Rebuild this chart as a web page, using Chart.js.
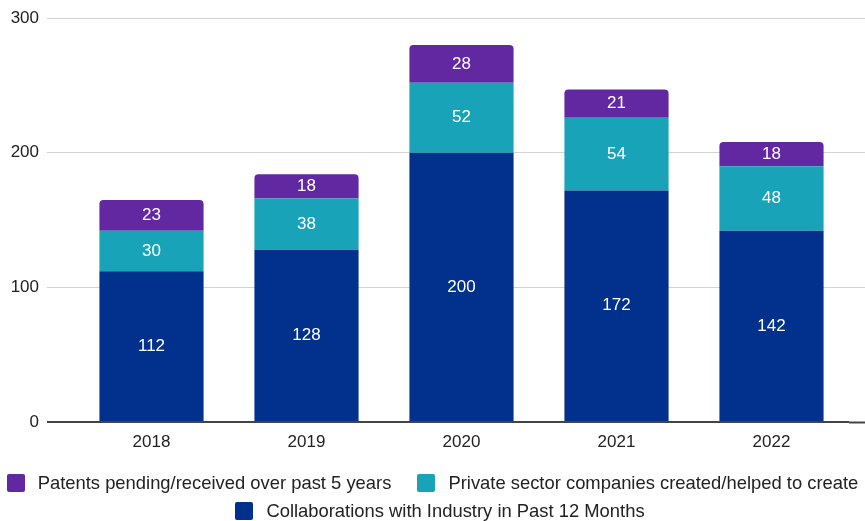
<!DOCTYPE html>
<html lang="en">
<head>
<meta charset="UTF-8">
<title>Stacked outputs by year</title>
<script src="https://cdn.jsdelivr.net/npm/chart.js@4.4.0/dist/chart.umd.min.js"></script>
<style>
  html, body { margin: 0; padding: 0; background: #fff; }
  #wrap { position: relative; width: 865px; height: 521px; }
  #legend {
    position: absolute; left: 0; top: 469px; width: 865px;
    font-family: 'Liberation Sans', Arial, sans-serif; font-size: 18.4px; color: #222;
  }
  .row { display: flex; justify-content: center; height: 28px; align-items: center; }
  .row.second { padding-left: 15px; }
  .item { display: flex; align-items: center; margin: 0 13px; white-space: nowrap; }
  .box { width: 18px; height: 18px; border-radius: 2px; margin-right: 13px; }
</style>
</head>
<body>
<div id="wrap">
  <canvas id="chart"></canvas>
  <div id="legend"></div>
</div>
<script>
// Data
const years = ['2018', '2019', '2020', '2021', '2022'];
const collaborations = [112, 128, 200, 172, 142];
const privateSector = [30, 38, 52, 54, 48];
const patents = [23, 18, 28, 21, 18];
const yTicks = [0, 100, 200, 300];

const FONT = 'Liberation Sans, Arial, sans-serif';
const gridColor = ctx => ctx.tick && ctx.tick.value === 0 ? '#444' : '#d3d3d3';
const gridWidth = ctx => ctx.tick && ctx.tick.value === 0 ? 2 : 1;

// white value labels centred in every bar segment
const segmentLabels = {
  id: 'segmentLabels',
  afterDatasetsDraw(chart) {
    const ctx = chart.ctx;
    ctx.save();
    ctx.fillStyle = '#fff';
    ctx.font = '17px ' + FONT;
    ctx.textAlign = 'center';
    ctx.textBaseline = 'middle';
    chart.data.datasets.forEach((ds, i) => {
      chart.getDatasetMeta(i).data.forEach((bar, j) => {
        ctx.fillText(ds.data[j], bar.x, (bar.y + bar.base) / 2);
      });
    });
    ctx.restore();
  }
};

const chart = new Chart(document.getElementById('chart'), {
  type: 'bar',
  data: {
    labels: years,
    datasets: [
      {
        label: 'Collaborations with Industry in Past 12 Months',
        data: collaborations,
        backgroundColor: '#01318c'
      },
      {
        label: 'Private sector companies created/helped to create',
        data: privateSector,
        backgroundColor: '#18a3b8'
      },
      {
        label: 'Patents pending/received over past 5 years',
        data: patents,
        backgroundColor: '#6228a2',
        borderRadius: { topLeft: 4, topRight: 4, bottomLeft: 0, bottomRight: 0 },
        borderSkipped: false
      }
    ]
  },
  options: {
    responsive: true,
    maintainAspectRatio: false,
    animation: false,
    datasets: { bar: { categoryPercentage: 1, barPercentage: 0.672 } },
    layout: { padding: { top: 18, left: 0, right: 0, bottom: 57 } },
    plugins: {
      tooltip: { enabled: false },
      legend: { display: false }
    },
    scales: {
      x: {
        stacked: true,
        grid: { display: false, drawTicks: false },
        border: { display: false },
        ticks: { color: '#222', padding: 10, font: { family: FONT, size: 17 } },
        afterFit(s) { s.height = 42; }
      },
      y: {
        stacked: true,
        position: 'left',
        min: 0,
        max: 300,
        afterBuildTicks(s) { s.ticks = yTicks.map(v => ({ value: v })); },
        grid: { color: gridColor, lineWidth: gridWidth, tickLength: 27, tickColor: gridColor, tickWidth: gridWidth },
        border: { display: false },
        ticks: { color: '#222', padding: 8, font: { family: FONT, size: 17 } },
        afterFit(s) { s.width = 74; }
      },
      y2: {
        position: 'right',
        min: 0,
        max: 300,
        afterBuildTicks(s) { s.ticks = yTicks.map(v => ({ value: v })); },
        grid: { drawOnChartArea: false, tickLength: 16, tickColor: gridColor, tickWidth: gridWidth },
        border: { display: false },
        ticks: { display: false },
        afterFit(s) { s.width = 16; }
      }
    }
  },
  plugins: [segmentLabels]
});

// legend built from the datasets: top segment first, two rows like the reference
const legendEl = document.getElementById('legend');
const order = chart.data.datasets.slice().reverse();
[[order[0], order[1]], [order[2]]].forEach((items, r) => {
  const row = document.createElement('div');
  row.className = 'row' + (r === 1 ? ' second' : '');
  items.forEach(ds => {
    const item = document.createElement('div');
    item.className = 'item';
    const box = document.createElement('span');
    box.className = 'box';
    box.style.background = ds.backgroundColor;
    const text = document.createElement('span');
    text.textContent = ds.label;
    item.appendChild(box);
    item.appendChild(text);
    row.appendChild(item);
  });
  legendEl.appendChild(row);
});
</script>
</body>
</html>
